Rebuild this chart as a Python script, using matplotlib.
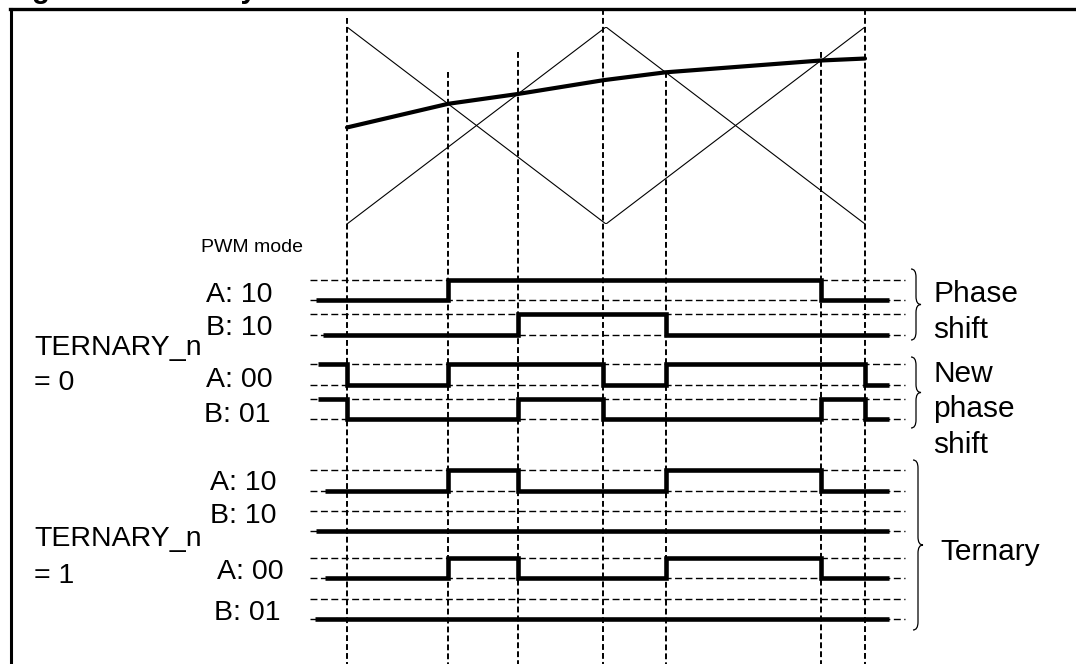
import matplotlib.pyplot as plt
from matplotlib.lines import Line2D
from matplotlib.path import Path
from matplotlib.patches import PathPatch

plt.rcParams['font.family'] = ['Liberation Sans', 'DejaVu Sans']

W, H = 1076, 664
X0 = 347.0      # pixel position of t = 0
PX_T = 259.0    # pixels per carrier half period

# carriers, one full period (t = 0..2)
carrier_t = [0, 1, 2]
carrier_a = [1, 0, 1]
carrier_b = [0, 1, 0]

# reference signal, sampled at the crossing instants
ref_t = [0, 0.39, 0.66, 0.99, 1.23, 1.83, 2.0]
ref_v = [0.49, 0.61, 0.66, 0.73, 0.77, 0.83, 0.84]

# switching instants (vertical dashed markers)
edges = [0, 0.39, 0.66, 0.99, 1.23, 1.83, 2.0]

# output levels in each interval: [start, e1, e2, ..., e7, end]
ps_a10 = [0, 0, 1, 1, 1, 1, 0, 0]
ps_b10 = [0, 0, 0, 1, 1, 0, 0, 0]
nps_a00 = [1, 0, 1, 1, 0, 1, 1, 0]
nps_b01 = [1, 0, 0, 1, 0, 0, 1, 0]
t_a10 = [0, 0, 1, 0, 0, 1, 0, 0]
t_b10 = [0, 0, 0, 0, 0, 0, 0, 0]
t_a00 = [0, 0, 1, 0, 0, 1, 0, 0]
t_b01 = [0, 0, 0, 0, 0, 0, 0, 0]

signals = [ps_a10, ps_b10, nps_a00, nps_b01, t_a10, t_b10, t_a00, t_b01]
labels = ["A: 10", "B: 10", "A: 00", "B: 01", "A: 10", "B: 10", "A: 00", "B: 01"]

# layout (pixels)
row_high = [280, 314, 364, 399, 470, 511, 558, 599]
row_low = [300, 335, 385, 419, 491, 531, 578, 619]
row_start = [316, 323, 318, 318, 325, 316, 325, 315]
label_right = [273, 273, 273, 271, 277, 277, 284, 280]
label_base = [302, 335, 387, 422, 490, 523, 579, 620]
vline_top = [18, 72, 52, 9, 72, 52, 9]


def tx(px):
    return (px - X0) / PX_T


def brace(ax, x, y0, y1, w, r=8):
    ym = (y0 + y1) / 2
    xm = x + w / 2
    verts = [(x, y0), (xm, y0), (xm, y0 + r), (xm, ym - r),
             (xm, ym), (x + w, ym), (xm, ym), (xm, ym + r),
             (xm, y1 - r), (xm, y1), (x, y1)]
    codes = [Path.MOVETO, Path.CURVE3, Path.CURVE3, Path.LINETO,
             Path.CURVE3, Path.CURVE3, Path.CURVE3, Path.CURVE3,
             Path.LINETO, Path.CURVE3, Path.CURVE3]
    ax.add_patch(PathPatch(Path(verts, codes), fill=False, lw=0.9, color="black"))


fig = plt.figure(figsize=(W / 100, H / 100), dpi=100)
xlim = (tx(0), tx(W))

ax = fig.add_axes([0, 0, 1, 1])
ax.set_xlim(*xlim)
ax.set_ylim(H, 0)
ax.axis("off")

# carrier / reference panel
axc = fig.add_axes([0, (H - 224) / H, 1, 197 / H])
axc.set_xlim(*xlim)
axc.set_ylim(0, 1)
axc.axis("off")
axc.plot(carrier_t, carrier_a, color="black", lw=0.8)
axc.plot(carrier_t, carrier_b, color="black", lw=0.8)
axc.plot(ref_t, ref_v, color="black", lw=3.0, solid_capstyle="round")

# vertical markers
for e, top in zip(edges, vline_top):
    ax.plot([e, e], [top, H], color="black", lw=1.4, dashes=(3.0, 1.6))

# digital outputs
t_end = tx(889)
for i, lv in enumerate(signals):
    hi, lo = row_high[i], row_low[i]
    for yy in (hi, lo):
        ax.plot([tx(310), tx(905)], [yy, yy], color="black", lw=1.0, dashes=(5, 2.5))
    bounds = [tx(row_start[i])] + edges + [t_end]
    xs, ys = [], []
    for j, v in enumerate(lv):
        y = hi if v else lo
        xs += [bounds[j], bounds[j + 1]]
        ys += [y, y]
    ax.plot(xs, ys, color="black", lw=3.3, solid_joinstyle="miter",
            solid_capstyle="butt")
    ax.text(tx(label_right[i]), label_base[i], labels[i], ha="right",
            va="baseline", fontsize=20.5)

ax.text(tx(201), 252, "PWM mode", fontsize=14, va="baseline")
ax.text(tx(34), 355, "TERNARY_n", fontsize=20.5, va="baseline")
ax.text(tx(34), 390, "= 0", fontsize=20.5, va="baseline")
ax.text(tx(34), 546, "TERNARY_n", fontsize=20.5, va="baseline")
ax.text(tx(34), 583, "= 1", fontsize=20.5, va="baseline")

brace(ax, tx(911), 269, 340, 10 / PX_T)
brace(ax, tx(911), 357, 428, 10 / PX_T)
brace(ax, tx(913), 460, 630, 10 / PX_T)

ax.text(tx(933), 302, "Phase", fontsize=21.5, va="baseline")
ax.text(tx(933), 338, "shift", fontsize=21.5, va="baseline")
ax.text(tx(933), 382, "New", fontsize=21.5, va="baseline")
ax.text(tx(933), 417, "phase", fontsize=21.5, va="baseline")
ax.text(tx(933), 453, "shift", fontsize=21.5, va="baseline")
ax.text(tx(940), 560, "Ternary", fontsize=21.5, va="baseline")

# frame (top and left edges visible) and clipped caption
fig.add_artist(Line2D([11.3 / W, 11.3 / W], [0, 1 - 9 / H], color="black", lw=2.2))
fig.add_artist(Line2D([10 / W, 1], [1 - 9 / H, 1 - 9 / H], color="black", lw=2.4))
fig.text(6 / W, 1 + 2 / H, "Figure 12. Ternary mode", fontsize=21,
         fontweight="bold", va="baseline")

fig.savefig("out.png", dpi=100)
